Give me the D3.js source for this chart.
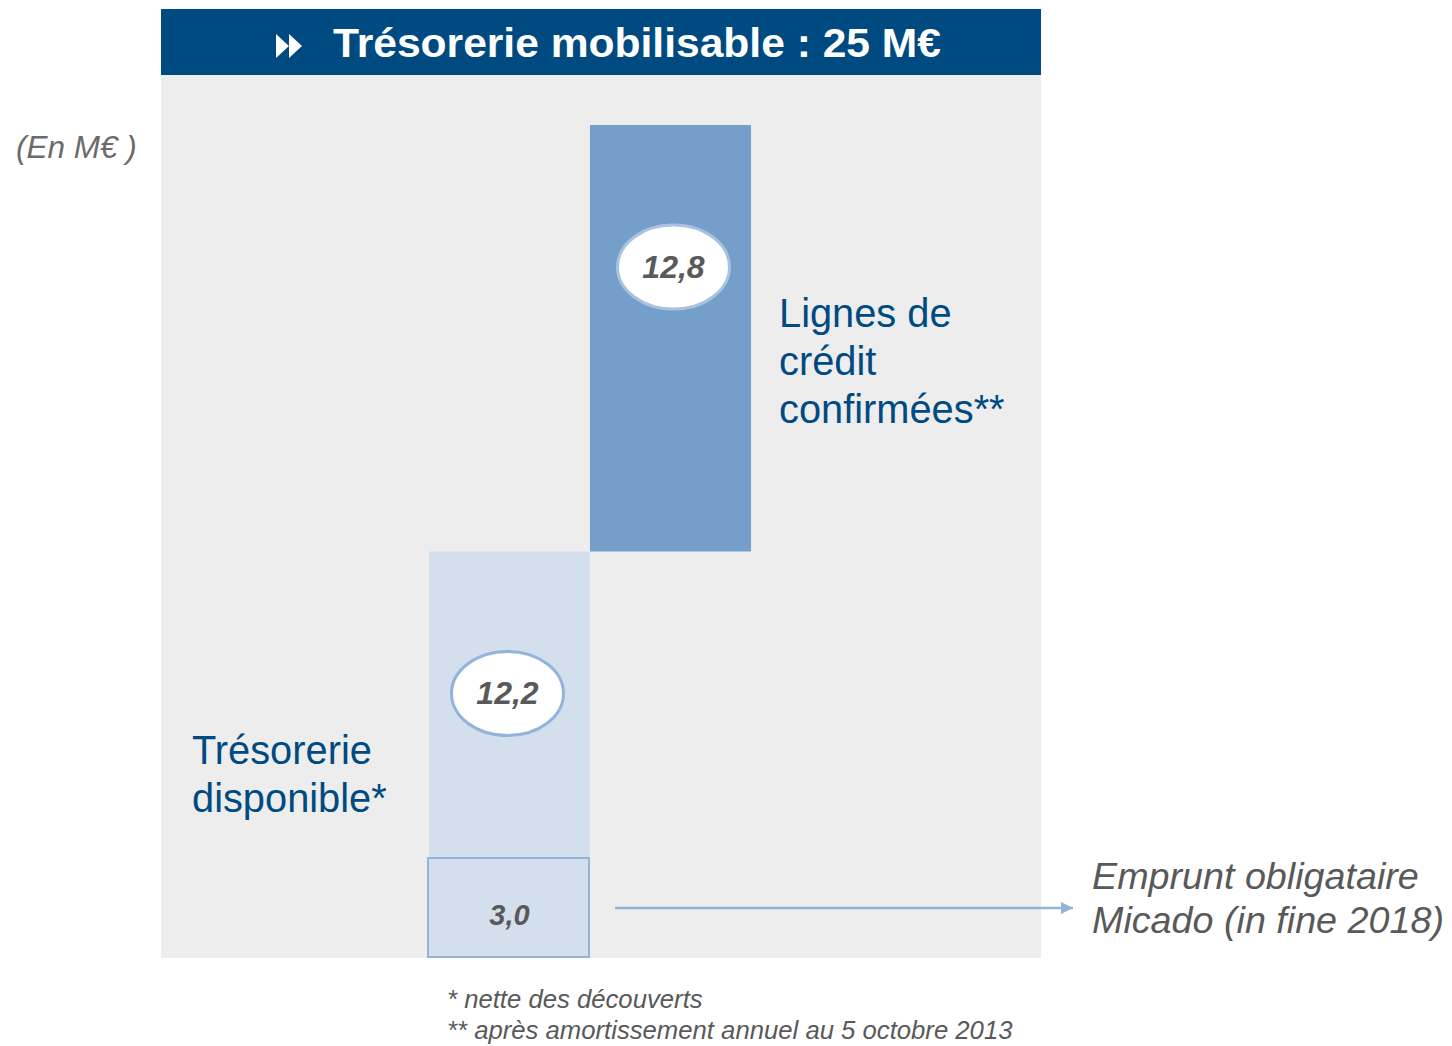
<!DOCTYPE html>
<html>
<head>
<meta charset="utf-8">
<script src="https://cdn.jsdelivr.net/npm/d3@7"></script>
<style>
  body { margin: 0; background: #fff; }
</style>
</head>
<body>
<svg></svg>
<script>
var svg = d3.select("svg");

// waterfall: trésorerie disponible, then lignes de crédit on top
var categories = ["Trésorerie disponible", "Lignes de crédit confirmées"];
var values = [12.2, 12.8];
var valueLabels = ["12,2", "12,8"];
var micadoValue = 3.0;
var micadoLabel = "3,0";
var total = 25;

var w = 1452,
    h = 1046;

svg.attr("width", w)
   .attr("height", h);

var x = d3.scaleBand()
    .domain(categories)
    .range([429, 751])
    .paddingInner(0);

var y = d3.scaleLinear()
    .domain([0, total])
    .range([958, 125]);

// cumulative starts
var starts = [];
var acc = 0;
values.forEach(function(v) { starts.push(acc); acc += v; });

// panel + header
svg.append("rect")
    .attr("x", 161).attr("y", 75)
    .attr("width", 880).attr("height", 883)
    .attr("fill", "#ededed");

svg.append("rect")
    .attr("x", 161).attr("y", 9)
    .attr("width", 880).attr("height", 66)
    .attr("fill", "#004a82");

// double arrow icon
svg.append("path")
    .attr("d", "M276,34 L289,46 L276,58 Z M289,34 L302,46 L289,58 Z")
    .attr("fill", "white");

svg.append("text")
    .attr("x", 333).attr("y", 57)
    .attr("font-family", "'Liberation Sans Narrow', 'Arial Narrow', 'Liberation Sans', sans-serif")
    .attr("font-weight", "bold")
    .attr("font-size", "40px")
    .attr("fill", "white")
    .attr("textLength", 608)
    .attr("lengthAdjust", "spacingAndGlyphs")
    .text("Trésorerie mobilisable : 25 M€");

svg.append("text")
    .attr("x", 16).attr("y", 158)
    .attr("font-family", "'Liberation Sans', Arial, sans-serif")
    .attr("font-style", "italic")
    .attr("font-size", "31.5px")
    .attr("fill", "#6b6b6b")
    .text("(En M€ )");

// bars
var colors = ["#d3dfed", "#749fca"];

svg.selectAll("rect.bar")
    .data(values)
    .enter()
    .append("rect")
    .attr("class", "bar")
    .attr("x", function(d, i) { return x(categories[i]); })
    .attr("y", function(d, i) { return y(starts[i] + d); })
    .attr("width", x.bandwidth())
    .attr("height", function(d, i) { return y(starts[i]) - y(starts[i] + d); })
    .attr("fill", function(d, i) { return colors[i]; });

// micado sub box
svg.append("rect")
    .attr("x", x(categories[0]) - 1)
    .attr("y", y(micadoValue))
    .attr("width", x.bandwidth())
    .attr("height", y(0) - y(micadoValue) - 1)
    .attr("fill", "#d3dfed")
    .attr("stroke", "#93b3d8")
    .attr("stroke-width", 2);

svg.append("text")
    .attr("x", x(categories[0]) + x.bandwidth() / 2)
    .attr("y", (y(0) + y(micadoValue)) / 2 + 17)
    .attr("text-anchor", "middle")
    .attr("font-family", "'Liberation Sans', Arial, sans-serif")
    .attr("font-style", "italic")
    .attr("font-weight", "bold")
    .attr("font-size", "29px")
    .attr("fill", "#595959")
    .text(micadoLabel);

// value ellipses
var bubbles = svg.selectAll("g.bubble")
    .data(values)
    .enter()
    .append("g")
    .attr("class", "bubble")
    .attr("transform", function(d, i) {
        var dx = i === 0 ? -2 : 3;
        return "translate(" + (x(categories[i]) + x.bandwidth() / 2 + dx) + "," + (y(starts[i] + d) + 142) + ")";
    });

bubbles.append("ellipse")
    .attr("rx", 56)
    .attr("ry", 42)
    .attr("fill", "white")
    .attr("stroke", function(d, i) { return i === 0 ? "#93b3d8" : "#a9c2df"; })
    .attr("stroke-width", 3);

bubbles.append("text")
    .attr("y", 11)
    .attr("text-anchor", "middle")
    .attr("font-family", "'Liberation Sans', Arial, sans-serif")
    .attr("font-style", "italic")
    .attr("font-weight", "bold")
    .attr("font-size", "32px")
    .attr("fill", "#595959")
    .text(function(d, i) { return valueLabels[i]; });

// category labels
var labelLines = [["Trésorerie", "disponible*"], ["Lignes de", "crédit", "confirmées**"]];
var labelPos = [{x: 192, y: 764}, {x: 779, y: 327}];

labelLines.forEach(function(lines, i) {
    svg.append("text")
        .attr("font-family", "'Liberation Sans', Arial, sans-serif")
        .attr("font-size", "39.8px")
        .attr("fill", "#004a82")
        .selectAll("tspan")
        .data(lines)
        .enter()
        .append("tspan")
        .attr("x", labelPos[i].x)
        .attr("y", function(d, j) { return labelPos[i].y + j * 48; })
        .text(function(d) { return d; });
});

// arrow to Micado
var defs = svg.append("defs");
defs.append("marker")
    .attr("id", "arr")
    .attr("viewBox", "0 0 10 10")
    .attr("refX", 10).attr("refY", 5)
    .attr("markerWidth", 5).attr("markerHeight", 5)
    .attr("markerUnits", "strokeWidth")
    .attr("orient", "auto")
    .append("path")
    .attr("d", "M0,0 L10,5 L0,10 Z")
    .attr("fill", "#93b3d8");

svg.append("line")
    .attr("x1", 615).attr("x2", 1073)
    .attr("y1", (y(0) + y(micadoValue)) / 2)
    .attr("y2", (y(0) + y(micadoValue)) / 2)
    .attr("stroke", "#93b3d8")
    .attr("stroke-width", 2.5)
    .attr("marker-end", "url(#arr)");

svg.append("text")
    .attr("font-family", "'Liberation Sans', Arial, sans-serif")
    .attr("font-style", "italic")
    .attr("font-size", "37.7px")
    .attr("fill", "#595959")
    .selectAll("tspan")
    .data(["Emprunt obligataire", "Micado (in fine 2018)"])
    .enter()
    .append("tspan")
    .attr("x", 1092)
    .attr("y", function(d, j) { return 889 + j * 44; })
    .text(function(d) { return d; });

// footnotes
svg.append("text")
    .attr("font-family", "'Liberation Sans', Arial, sans-serif")
    .attr("font-style", "italic")
    .attr("font-size", "25.7px")
    .attr("fill", "#595959")
    .selectAll("tspan")
    .data(["* nette des découverts", "** après amortissement annuel au 5 octobre 2013"])
    .enter()
    .append("tspan")
    .attr("x", 447)
    .attr("y", function(d, j) { return 1008 + j * 31; })
    .text(function(d) { return d; });
</script>
</body>
</html>
